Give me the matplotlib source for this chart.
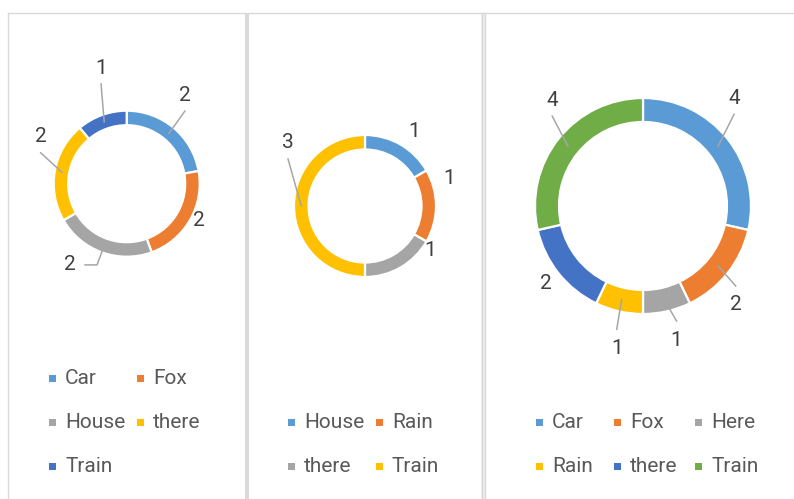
import numpy as np
import matplotlib
matplotlib.use("Agg")
import matplotlib.pyplot as plt
from matplotlib.patches import Rectangle

plt.rcParams['font.family'] = ['Roboto', 'DejaVu Sans']

# data for the three doughnuts
cats1 = ["Car", "Fox", "House", "there", "Train"]
vals1 = [2, 2, 2, 2, 1]

cats2 = ["House", "Rain", "there", "Train"]
vals2 = [1, 1, 1, 3]

cats3 = ["Car", "Fox", "Here", "Rain", "there", "Train"]
vals3 = [4, 2, 1, 1, 2, 4]

# office palette, by series index
palette = ["#5B9BD5", "#ED7D31", "#A5A5A5", "#FFC000", "#4472C4", "#70AD47"]

W, H = 794, 499
fig = plt.figure(figsize=(W / 100, H / 100), dpi=100)
ax = fig.add_axes([0, 0, 1, 1])


def Y(y):
    # image pixel row -> data y (y up)
    return H - y


# layout of each chart: centre, radius, ring width, label placement, legend grid
charts = [
    dict(cats=cats1, vals=vals1, c=(126.7, 183.7), r=73, w=14.5,
         shift=[-6.7, -3.3, 14.9, 18.6, 7.5], dist=[106, 81, 99, 98, 118.5],
         lead=['v', None, 'h', 'v', 'v'],
         leg_x=[49, 137], leg_y=[378, 422, 466]),
    dict(cats=cats2, vals=vals2, c=(365, 206), r=71, w=14.5,
         shift=[3.5, -18.4, -25.9, 39.3], dist=[89, 88.5, 78.5, 99.5],
         lead=[None, None, None, 'v'],
         leg_x=[288, 376], leg_y=[422, 466]),
    dict(cats=cats3, vals=vals3, c=(643, 206), r=108, w=24,
         shift=[-11.2, 8.3, -1.2, -2.4, 0.1, 10.8],
         dist=[141, 135.6, 138.2, 144.7, 124.3, 139.5],
         lead=['v', 'v', 'v', 'v', None, 'v'],
         leg_x=[536, 614, 695], leg_y=[422, 466]),
]

for ch in charts:
    cx, cy = ch["c"]
    vals = ch["vals"]
    cols = palette[:len(vals)]
    ax.pie(vals, colors=cols, startangle=90, counterclock=False,
           radius=ch["r"], center=(cx, Y(cy)),
           wedgeprops=dict(width=ch["w"], edgecolor="white", linewidth=1.6))

    # data labels
    tot = float(sum(vals))
    cum = np.cumsum([0] + list(vals))
    rmid = ch["r"] - ch["w"] / 2
    for i, v in enumerate(vals):
        mid = (cum[i] + v / 2) / tot * 360
        t = np.radians(mid + ch["shift"][i])
        lx = cx + ch["dist"][i] * np.sin(t)
        ly = cy - ch["dist"][i] * np.cos(t)
        ax.text(lx, Y(ly), str(v), fontsize=15, color="#404040",
                ha="center", va="center")
        tm = np.radians(mid)
        sx = cx + rmid * np.sin(tm)
        sy = cy - rmid * np.cos(tm)
        if ch["lead"][i] == 'v':
            ey = ly + 16 if ly < cy else ly - 19
            ax.plot([sx, lx], [Y(sy), Y(ey)], color="#A6A6A6", lw=1.1)
        elif ch["lead"][i] == 'h':
            ax.plot([sx, lx + 27, lx + 15], [Y(sy), Y(ly), Y(ly)],
                    color="#A6A6A6", lw=1.1)

    # legend
    ncol = len(ch["leg_x"])
    for i, name in enumerate(ch["cats"]):
        mx = ch["leg_x"][i % ncol]
        my = ch["leg_y"][i // ncol]
        ax.add_patch(Rectangle((mx, Y(my) - 3.5), 7, 7, facecolor=cols[i],
                               edgecolor="none"))
        ax.text(mx + 16, Y(my), name, fontsize=15, color="#595959",
                ha="left", va="center")

# chart borders
bc = "#D9D9D9"
ax.plot([8, W], [Y(12.5), Y(12.5)], color=bc, lw=1)
ax.plot([7.5, 7.5], [Y(12.5), 0], color=bc, lw=1)
ax.add_patch(Rectangle((245, 0), 4, Y(12.5), facecolor=bc, edgecolor="none"))
ax.add_patch(Rectangle((481, 0), 4, Y(12.5), facecolor="#EDEDED", edgecolor="none"))
ax.plot([481.5, 481.5], [Y(12.5), 0], color=bc, lw=1)
ax.plot([484.5, 484.5], [Y(12.5), 0], color=bc, lw=1)

ax.set_xlim(0, W)
ax.set_ylim(0, H)
ax.set_aspect("auto")
ax.axis("off")

fig.savefig("out.png", dpi=100)
